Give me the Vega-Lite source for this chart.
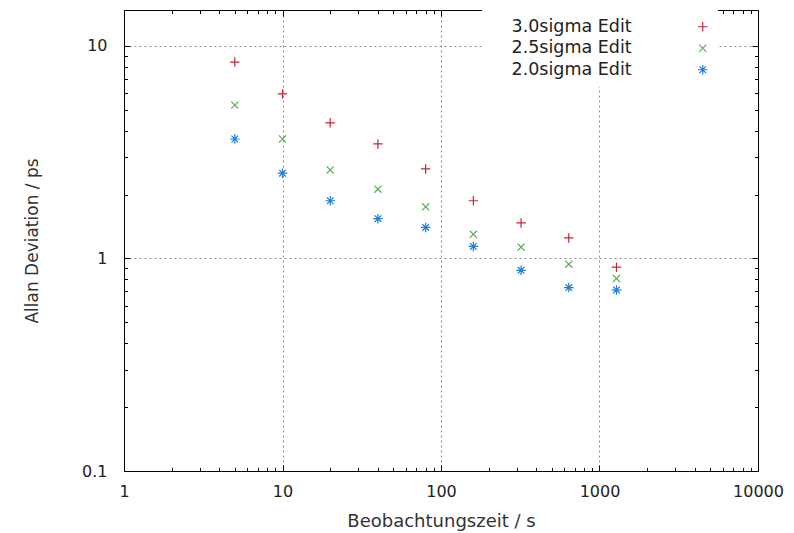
{
  "$schema": "https://vega.github.io/schema/vega-lite/v6.json",
  "autosize": {"type": "none"},
  "padding": {"left": 124, "top": 10, "right": 36, "bottom": 62},
  "width": 634,
  "height": 461,
  "background": "white",
  "config": {
    "view": {"stroke": "#000000", "strokeWidth": 1},
    "font": "DejaVu Sans",
    "axis": {"labelFont": "DejaVu Sans", "titleFont": "DejaVu Sans", "labelColor": "#222222", "titleColor": "#333333", "titleFontWeight": "normal", "domain": false, "tickColor": "#000000"}
  },
  "data": {
    "values": [
      {"tau": 5, "adev": 8.4, "series": "3.0sigma Edit"},
      {"tau": 10, "adev": 5.95, "series": "3.0sigma Edit"},
      {"tau": 20, "adev": 4.35, "series": "3.0sigma Edit"},
      {"tau": 40, "adev": 3.46, "series": "3.0sigma Edit"},
      {"tau": 80, "adev": 2.64, "series": "3.0sigma Edit"},
      {"tau": 160, "adev": 1.87, "series": "3.0sigma Edit"},
      {"tau": 320, "adev": 1.47, "series": "3.0sigma Edit"},
      {"tau": 640, "adev": 1.25, "series": "3.0sigma Edit"},
      {"tau": 1280, "adev": 0.91, "series": "3.0sigma Edit"},
      {"tau": 5, "adev": 5.27, "series": "2.5sigma Edit"},
      {"tau": 10, "adev": 3.65, "series": "2.5sigma Edit"},
      {"tau": 20, "adev": 2.61, "series": "2.5sigma Edit"},
      {"tau": 40, "adev": 2.12, "series": "2.5sigma Edit"},
      {"tau": 80, "adev": 1.75, "series": "2.5sigma Edit"},
      {"tau": 160, "adev": 1.3, "series": "2.5sigma Edit"},
      {"tau": 320, "adev": 1.13, "series": "2.5sigma Edit"},
      {"tau": 640, "adev": 0.94, "series": "2.5sigma Edit"},
      {"tau": 1280, "adev": 0.805, "series": "2.5sigma Edit"},
      {"tau": 5, "adev": 3.65, "series": "2.0sigma Edit"},
      {"tau": 10, "adev": 2.52, "series": "2.0sigma Edit"},
      {"tau": 20, "adev": 1.87, "series": "2.0sigma Edit"},
      {"tau": 40, "adev": 1.54, "series": "2.0sigma Edit"},
      {"tau": 80, "adev": 1.4, "series": "2.0sigma Edit"},
      {"tau": 160, "adev": 1.14, "series": "2.0sigma Edit"},
      {"tau": 320, "adev": 0.88, "series": "2.0sigma Edit"},
      {"tau": 640, "adev": 0.73, "series": "2.0sigma Edit"},
      {"tau": 1280, "adev": 0.71, "series": "2.0sigma Edit"}
    ]
  },
  "resolve": {"axis": {"x": "independent", "y": "independent"}},
  "layer": [
    {
      "mark": {"type": "point", "filled": false, "strokeWidth": 1.2, "size": 90, "opacity": 1},
      "encoding": {
        "x": {
          "field": "tau", "type": "quantitative",
          "scale": {"type": "log", "domain": [1, 10000], "nice": false},
          "axis": {
            "title": "Beobachtungszeit / s",
            "titleFontSize": 18, "titlePadding": 13,
            "labelFontSize": 16, "labelPadding": 18, "labelFlush": false,
            "values": [1,2,3,4,5,6,7,8,9,10,20,30,40,50,60,70,80,90,100,200,300,400,500,600,700,800,900,1000,2000,3000,4000,5000,6000,7000,8000,9000,10000],
            "labelExpr": "indexof([1,10,100,1000,10000], datum.value) >= 0 ? format(datum.value, 'd') : ''",
            "tickSize": {"condition": {"test": "indexof([1,10,100,1000,10000], datum.value) >= 0", "value": -6}, "value": -3.5},
            "grid": true,
            "gridColor": "#8c8c8c", "gridDash": [2, 3],
            "gridOpacity": {"condition": {"test": "indexof([10,100,1000], datum.value) >= 0", "value": 1}, "value": 0}
          }
        },
        "y": {
          "field": "adev", "type": "quantitative",
          "scale": {"type": "log", "domain": [0.1, 14.77], "nice": false},
          "axis": {
            "title": "Allan Deviation / ps",
            "titleFontSize": 17, "titlePadding": 40,
            "labelFontSize": 16, "labelPadding": 23, "labelFlush": false,
            "values": [0.1,0.2,0.3,0.4,0.5,0.6,0.7,0.8,0.9,1,2,3,4,5,6,7,8,9,10],
            "labelExpr": "datum.value == 0.1 ? '0.1' : datum.value == 1 ? '1' : datum.value == 10 ? '10' : ''",
            "tickSize": {"condition": {"test": "datum.value == 0.1 || datum.value == 1 || datum.value == 10", "value": -6}, "value": -3.5},
            "grid": true,
            "gridColor": "#8c8c8c", "gridDash": [2, 3],
            "gridOpacity": {"condition": {"test": "datum.value == 1 || datum.value == 10", "value": 1}, "value": 0}
          }
        },
        "color": {
          "field": "series", "type": "nominal",
          "scale": {"domain": ["3.0sigma Edit", "2.5sigma Edit", "2.0sigma Edit"], "range": ["#c0283a", "#52b152", "#1f7fd6"]},
          "legend": {
            "title": null, "orient": "none", "legendX": 358, "legendY": 0,
            "labelFontSize": 17.5, "labelColor": "#222222", "labelAlign": "left", "labelOffset": -200,
            "symbolOffset": 204,
            "fillColor": "white", "padding": 8, "rowPadding": 2.5, "symbolStrokeWidth": 1.2, "symbolSize": 90,
            "offset": 0
          }
        },
        "shape": {
          "field": "series", "type": "nominal",
          "scale": {"domain": ["3.0sigma Edit", "2.5sigma Edit", "2.0sigma Edit"], "range": ["M-1,0L1,0M0,-1L0,1", "M-0.75,-0.75L0.75,0.75M-0.75,0.75L0.75,-0.75", "M-1,0L1,0M0,-1L0,1M-0.7,-0.7L0.7,0.7M-0.7,0.7L0.7,-0.7"]}
        }
      }
    },
    {
      "mark": {"type": "point", "opacity": 0},
      "encoding": {
        "x": {
          "field": "tau", "type": "quantitative",
          "scale": {"type": "log", "domain": [1, 10000], "nice": false},
          "axis": {
            "orient": "top", "title": null, "labels": false, "grid": false,
            "values": [1,2,3,4,5,6,7,8,9,10,20,30,40,50,60,70,80,90,100,200,300,400,500,600,700,800,900,1000,2000,3000,4000,5000,6000,7000,8000,9000,10000],
            "tickSize": {"condition": {"test": "indexof([1,10,100,1000,10000], datum.value) >= 0", "value": -6}, "value": -3.5}
          }
        },
        "y": {
          "field": "adev", "type": "quantitative",
          "scale": {"type": "log", "domain": [0.1, 14.77], "nice": false},
          "axis": {
            "orient": "right", "title": null, "labels": false, "grid": false,
            "values": [0.1,0.2,0.3,0.4,0.5,0.6,0.7,0.8,0.9,1,2,3,4,5,6,7,8,9,10],
            "tickSize": {"condition": {"test": "datum.value == 0.1 || datum.value == 1 || datum.value == 10", "value": -6}, "value": -3.5}
          }
        }
      }
    }
  ]
}
